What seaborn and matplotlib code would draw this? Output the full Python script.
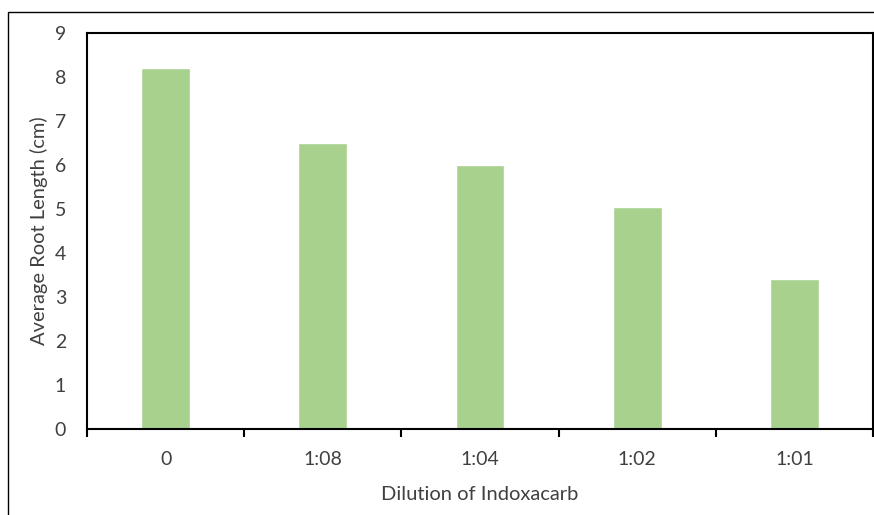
import pandas as pd
import seaborn as sns
import matplotlib.pyplot as plt
from matplotlib.patches import Rectangle

# values
dilutions = ["0", "1:08", "1:04", "1:02", "1:01"]
root_length = [8.2, 6.5, 6.0, 5.05, 3.4]

data = pd.DataFrame({"Dilution": dilutions, "Length": root_length})

sns.set_theme(style="white")
plt.rcParams['font.family'] = ['Lato', 'DejaVu Sans']

fig = plt.figure(figsize=(8.74, 5.15), dpi=100)
ax = fig.add_axes([87 / 874, 1 - 429 / 515, (873 - 87) / 874, (429 - 33) / 515])

sns.barplot(data=data, x="Dilution", y="Length", color="#A9D18E",
            width=0.31, saturation=1, ax=ax)

ax.set_xlim(-0.5, 4.5)
ax.set_ylim(0, 9)
ax.set_yticks(range(0, 10))

txt = "#404040"
fs = 14
ax.tick_params(axis="y", length=0, pad=15, labelsize=fs, labelcolor=txt)
ax.tick_params(axis="x", which="major", length=0, pad=16, labelsize=fs, labelcolor=txt)
ax.set_xticks([i - 0.5 for i in range(6)], minor=True)
ax.tick_params(axis="x", which="minor", bottom=True, length=6, width=1.5,
               color="black", direction="out")

for s in ax.spines.values():
    s.set_visible(True)
    s.set_color("black")
    s.set_linewidth(1.5)

ax.set_xlabel("Dilution of Indoxacarb", fontsize=14.5, color=txt, labelpad=13)
ax.set_ylabel("Average Root Length (cm)", fontsize=14.5, color=txt, labelpad=5)

# outer chart border, running off the right and bottom edges
fig.add_artist(Rectangle((8 / 874, -0.1), 2, 1 - 12 / 515 + 0.1,
                         transform=fig.transFigure, fill=False,
                         edgecolor="black", linewidth=1))

fig.savefig("out.png", dpi=100)
